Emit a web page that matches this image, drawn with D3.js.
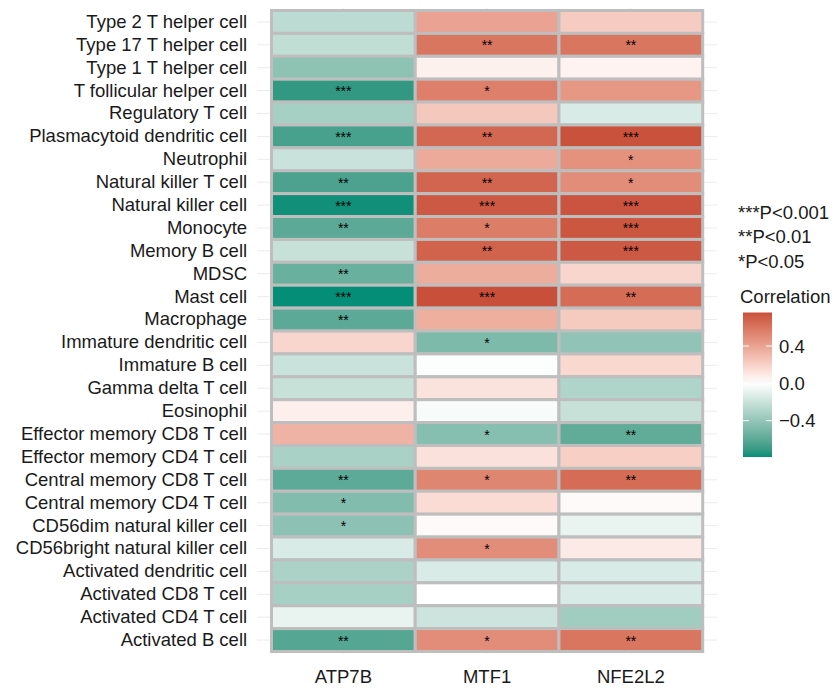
<!DOCTYPE html>
<html>
<head>
<meta charset="utf-8">
<script src="https://d3js.org/d3.v7.min.js"></script>
<style>
  body { margin: 0; background: #fff; }
  text { font-family: "Liberation Sans", Arial, Helvetica, sans-serif; }
</style>
</head>
<body>
<svg id="chart" width="833" height="689"></svg>
<script>

var genes = ["ATP7B", "MTF1", "NFE2L2"];

var cells = ["Type 2 T helper cell", "Type 17 T helper cell", "Type 1 T helper cell",
  "T follicular helper cell", "Regulatory T cell", "Plasmacytoid dendritic cell",
  "Neutrophil", "Natural killer T cell", "Natural killer cell", "Monocyte",
  "Memory B cell", "MDSC", "Mast cell", "Macrophage", "Immature dendritic cell",
  "Immature B cell", "Gamma delta T cell", "Eosinophil", "Effector memory CD8 T cell",
  "Effector memory CD4 T cell", "Central memory CD8 T cell", "Central memory CD4 T cell",
  "CD56dim natural killer cell", "CD56bright natural killer cell", "Activated dendritic cell",
  "Activated CD8 T cell", "Activated CD4 T cell", "Activated B cell"];

// correlation per cell, one array per gene (same order as cells)
var atp7b = [-0.25, -0.23, -0.42, -0.72, -0.33, -0.66, -0.20, -0.65, -0.78, -0.60,
  -0.21, -0.55, -0.79, -0.60, 0.18, -0.20, -0.21, 0.07, 0.33, -0.32,
  -0.59, -0.47, -0.43, -0.14, -0.31, -0.33, -0.08, -0.62];
var mtf1 = [0.40, 0.60, 0.06, 0.56, 0.24, 0.66, 0.37, 0.67, 0.72, 0.57,
  0.68, 0.36, 0.76, 0.35, -0.48, -0.01, 0.12, -0.03, -0.45, 0.13,
  0.53, 0.15, 0.02, 0.50, -0.14, 0.00, -0.19, 0.50];
var nfe2l2 = [0.22, 0.60, 0.05, 0.45, -0.14, 0.75, 0.48, 0.50, 0.74, 0.73,
  0.72, 0.18, 0.64, 0.23, -0.41, 0.17, -0.30, -0.21, -0.58, 0.21,
  0.64, 0.02, -0.08, 0.09, -0.14, -0.14, -0.35, 0.60];

// significance marks
var atp7bSig = ["", "", "", "***", "", "***", "", "**", "***", "**",
  "", "**", "***", "**", "", "", "", "", "", "",
  "**", "*", "*", "", "", "", "", "**"];
var mtf1Sig = ["", "**", "", "*", "", "**", "", "**", "***", "*",
  "**", "", "***", "", "*", "", "", "", "*", "",
  "*", "", "", "*", "", "", "", "*"];
var nfe2l2Sig = ["", "**", "", "", "", "***", "*", "*", "***", "***",
  "***", "", "**", "", "", "", "", "", "**", "",
  "**", "", "", "", "", "", "", "**"];

var legendNotes = ["***P<0.001", "**P<0.01", "*P<0.05"];
var barTicks = [0.4, 0.0, -0.4];

var values = { ATP7B: atp7b, MTF1: mtf1, NFE2L2: nfe2l2 };
var sigs = { ATP7B: atp7bSig, MTF1: mtf1Sig, NFE2L2: nfe2l2Sig };

var data = [];
genes.forEach(function(g) {
  cells.forEach(function(c, i) {
    data.push({ gene: g, cell: c, r: values[g][i], sig: sigs[g][i] });
  });
});

var svg = d3.select("#chart");
var fontSize = "18.5px";

var x = d3.scaleBand().domain(genes).range([271.5, 702.7]);
var y = d3.scaleBand().domain(cells).range([10.5, 651.5]);

var rMin = d3.min(data, function(d) { return d.r; });
var rMax = d3.max(data, function(d) { return d.r; });

var color = d3.scaleLinear()
  .domain([rMin, 0, rMax])
  .range(["#058e77", "#ffffff", "#c84f3a"])
  .interpolate(d3.interpolateLab);

// panel grid (shows only in the expanded margins)
var padX = x.bandwidth() * 0.1, padY = y.bandwidth() * 0.1;
var grid = svg.append("g");
grid.selectAll(".hg")
  .data(cells).enter().append("line")
  .attr("x1", 271.5 - padX).attr("x2", 702.7 + padX)
  .attr("y1", function(d) { return y(d) + y.bandwidth() / 2; })
  .attr("y2", function(d) { return y(d) + y.bandwidth() / 2; })
  .attr("stroke", "#ebebeb").attr("stroke-width", 1);
grid.selectAll(".vg")
  .data(genes).enter().append("line")
  .attr("y1", 10.5 - padY).attr("y2", 651.5 + padY)
  .attr("x1", function(d) { return x(d) + x.bandwidth() / 2; })
  .attr("x2", function(d) { return x(d) + x.bandwidth() / 2; })
  .attr("stroke", "#ebebeb").attr("stroke-width", 1);

// tiles
svg.append("g").selectAll("rect")
  .data(data).enter().append("rect")
  .attr("x", function(d) { return x(d.gene); })
  .attr("y", function(d) { return y(d.cell); })
  .attr("width", x.bandwidth())
  .attr("height", y.bandwidth())
  .attr("fill", function(d) { return color(d.r); })
  .attr("stroke", "#bebebe")
  .attr("stroke-width", 3);

// stars
svg.append("g").selectAll("text")
  .data(data.filter(function(d) { return d.sig; })).enter().append("text")
  .attr("x", function(d) { return x(d.gene) + x.bandwidth() / 2; })
  .attr("y", function(d) { return y(d.cell) + y.bandwidth() / 2 + 5.5; })
  .attr("text-anchor", "middle")
  .style("font-size", "14px")
  .style("fill", "#000")
  .text(function(d) { return d.sig; });

// axes
var yAxis = svg.append("g")
  .attr("transform", "translate(" + (271.5 - padX) + ",0)")
  .call(d3.axisLeft(y).tickSize(0).tickPadding(10));
yAxis.select(".domain").remove();
yAxis.selectAll("text").style("font-size", fontSize).style("fill", "#1a1a1a")
  .style("font-family", "'Liberation Sans', Arial, sans-serif");

var xAxis = svg.append("g")
  .attr("transform", "translate(0," + (651.5 + padY) + ")")
  .call(d3.axisBottom(x).tickSize(0).tickPadding(16));
xAxis.select(".domain").remove();
xAxis.selectAll("text").style("font-size", fontSize).style("fill", "#1a1a1a")
  .style("font-family", "'Liberation Sans', Arial, sans-serif");

// p-value notes
svg.append("g").selectAll("text")
  .data(legendNotes).enter().append("text")
  .attr("x", 738)
  .attr("y", function(d, i) { return 218.5 + i * 24.5; })
  .style("font-size", fontSize)
  .style("fill", "#1a1a1a")
  .text(function(d) { return d; });

// colour bar legend
svg.append("text")
  .attr("x", 740).attr("y", 302.5)
  .style("font-size", fontSize).style("fill", "#1a1a1a")
  .text("Correlation");

var barTop = 312.5, barBottom = 457, barX = 743, barW = 29;
var barScale = d3.scaleLinear().domain([rMin, rMax]).range([barBottom, barTop]);

var grad = svg.append("defs").append("linearGradient")
  .attr("id", "cbar").attr("x1", 0).attr("y1", 1).attr("x2", 0).attr("y2", 0);
d3.range(0, 1.0001, 0.05).forEach(function(t) {
  grad.append("stop")
    .attr("offset", t)
    .attr("stop-color", color(rMin + t * (rMax - rMin)));
});

svg.append("rect")
  .attr("x", barX).attr("y", barTop)
  .attr("width", barW).attr("height", barBottom - barTop)
  .attr("fill", "url(#cbar)");

var bt = svg.append("g").selectAll("g")
  .data(barTicks).enter().append("g")
  .attr("transform", function(d) { return "translate(0," + barScale(d) + ")"; });
bt.append("line").attr("x1", barX).attr("x2", barX + 6)
  .attr("stroke", "#fff").attr("stroke-width", 1);
bt.append("line").attr("x1", barX + barW - 6).attr("x2", barX + barW)
  .attr("stroke", "#fff").attr("stroke-width", 1);
bt.append("text")
  .attr("x", barX + barW + 7)
  .attr("dy", "0.35em")
  .style("font-size", fontSize).style("fill", "#1a1a1a")
  .text(function(d) { return d3.format(".1f")(d).replace("-", "\u2212"); });

</script>
</body>
</html>
